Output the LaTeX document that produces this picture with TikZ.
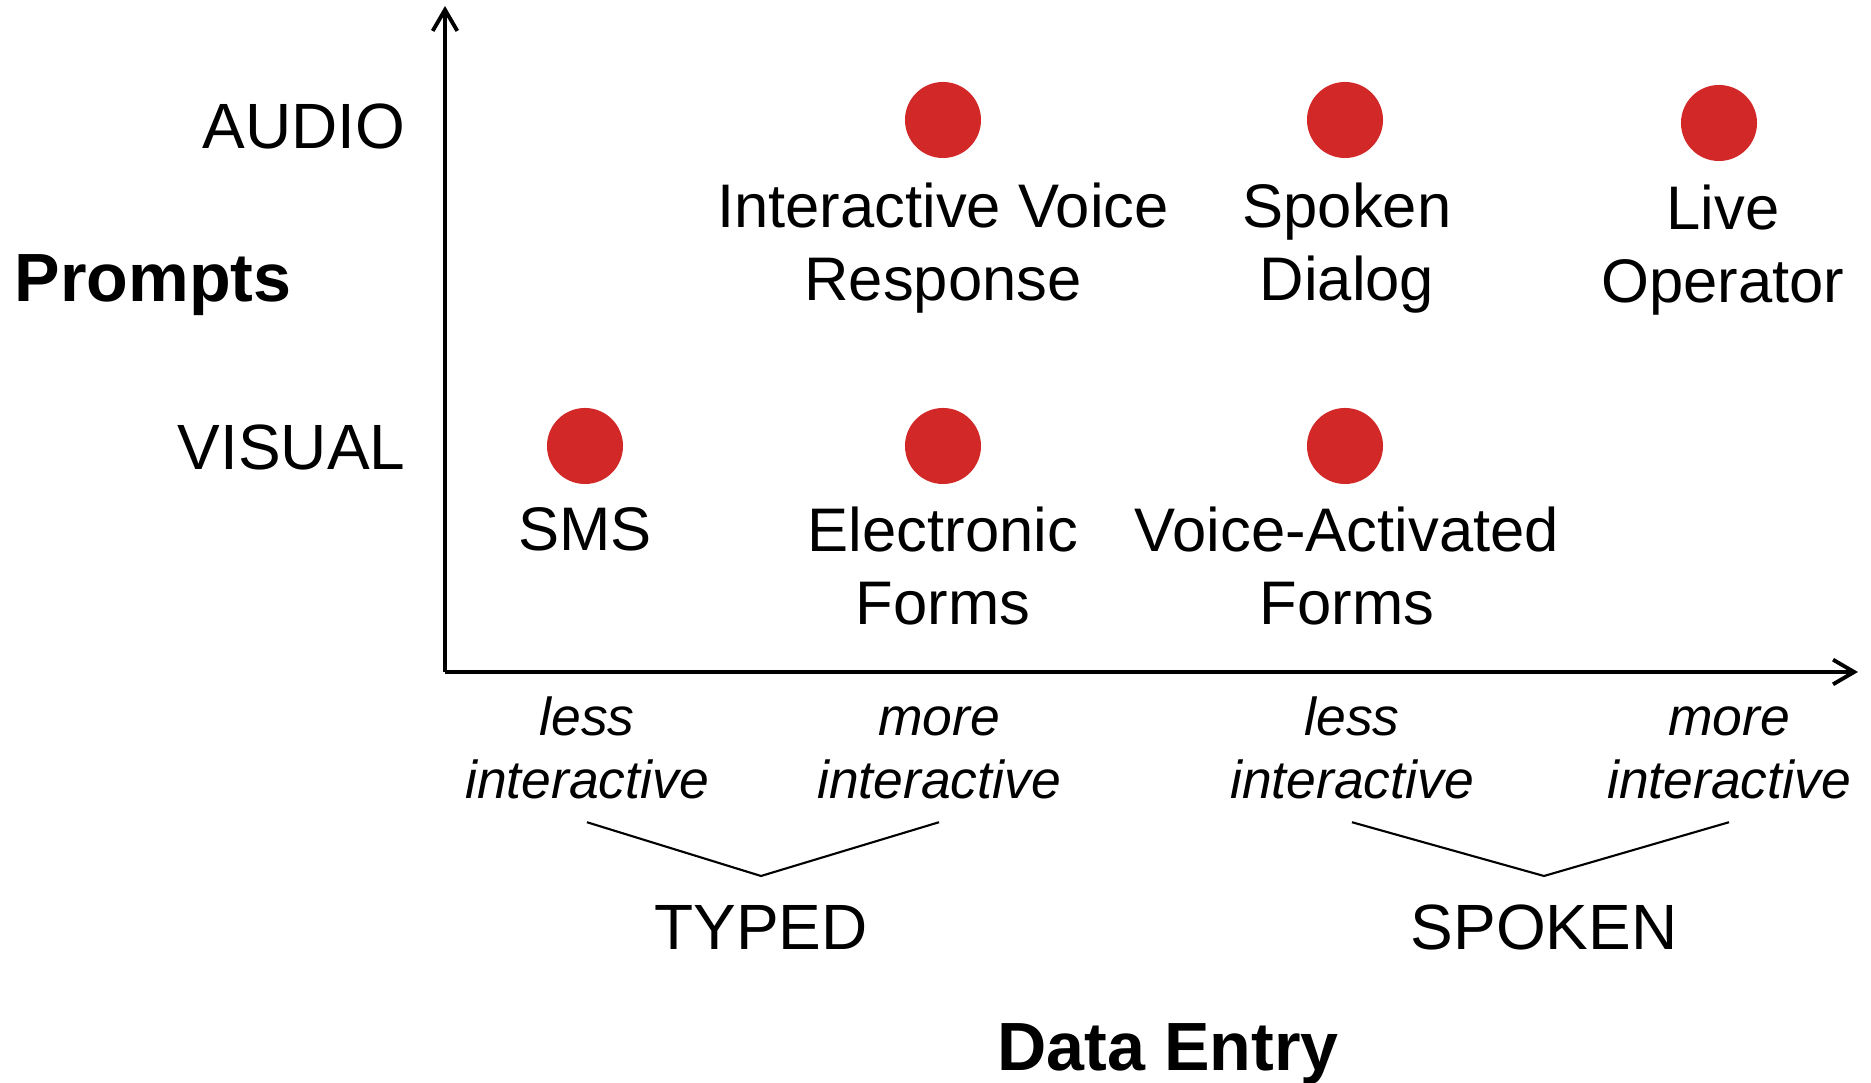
\documentclass[tikz,border=0pt]{standalone}
\usepackage{fontspec}
\setmainfont{Liberation Sans}
\usetikzlibrary{arrows.meta}

\definecolor{dotred}{RGB}{210,40,40}
\newcommand{\lblfont}{\fontsize{17.5}{21}\selectfont}
\newcommand{\axfont}{\fontsize{18.2}{21}\selectfont}
\newcommand{\itfont}{\fontsize{15.2}{18.1}\selectfont\itshape}
\newcommand{\boldfont}{\fontsize{19.4}{23}\selectfont\bfseries}

\begin{document}
\begin{tikzpicture}[x=0.01cm, y=-0.01cm, >={Straight Barb[length=6pt, width=7pt]},
  axis/.style={line width=1.1pt},
  brace/.style={line width=0.6pt},
  dot/.style={circle, fill=dotred, minimum size=0.76cm, inner sep=0pt},
  lbl/.style={inner sep=0pt, font=\lblfont, align=center},
  axlbl/.style={inner sep=0pt, font=\axfont},
  itlbl/.style={inner sep=0pt, font=\itfont, align=center},
  title/.style={inner sep=0pt, font=\boldfont}]
\useasboundingbox (0,0) rectangle (1871,1083);

% axes
\coordinate (origin) at (445,672);
\coordinate (ytop) at (445,6);
\coordinate (xend) at (1858,672);
\draw[axis, ->] (origin) -- (ytop);
\draw[axis, ->] (origin) -- (xend);

% prompt levels
\node[axlbl, anchor=base east] (audio) at (406,149) {AUDIO};
\node[axlbl, anchor=base east] (visual) at (406,470) {VISUAL};
\node[title, anchor=base west] (prompts) at (14,302) {Prompts};

% audio row (base = last line)
\node[dot] (divr) at (943,120) {};
\node[dot] (dspoken) at (1345,120) {};
\node[dot] (dlive) at (1719,123) {};
\node[lbl, anchor=base] (ivr) at (943,301) {Interactive Voice\\Response};
\node[lbl, anchor=base] (spoken) at (1347,301) {Spoken\\Dialog};
\node[lbl, anchor=base] (live) at (1723,303) {Live\\Operator};

% visual row
\node[dot] (dsms) at (585,446) {};
\node[dot] (deforms) at (943,446) {};
\node[dot] (dvforms) at (1345,446) {};
\node[lbl, anchor=base] (sms) at (585,551) {SMS};
\node[lbl, anchor=base] (eforms) at (943,625) {Electronic\\Forms};
\node[lbl, anchor=base] (vforms) at (1347,625) {Voice-Activated\\Forms};

% data entry levels
\node[itlbl, anchor=base] (less1) at (587,799) {less\\interactive};
\node[itlbl, anchor=base] (more1) at (939,799) {more\\interactive};
\node[itlbl, anchor=base] (less2) at (1352,799) {less\\interactive};
\node[itlbl, anchor=base] (more2) at (1729,799) {more\\interactive};

\node[axlbl, anchor=base] (typed) at (761,950) {TYPED};
\node[axlbl, anchor=base] (spokenin) at (1544,950) {SPOKEN};
\coordinate (typedtip) at (761,876);
\coordinate (spokentip) at (1544,876);
\draw[brace] ([yshift=-0.22cm]less1.south) -- (typedtip) -- ([yshift=-0.22cm]more1.south);
\draw[brace] ([yshift=-0.22cm]less2.south) -- (spokentip) -- ([yshift=-0.22cm]more2.south);

\node[title, anchor=base] (dataentry) at (1168,1071) {Data Entry};

\end{tikzpicture}
\end{document}
